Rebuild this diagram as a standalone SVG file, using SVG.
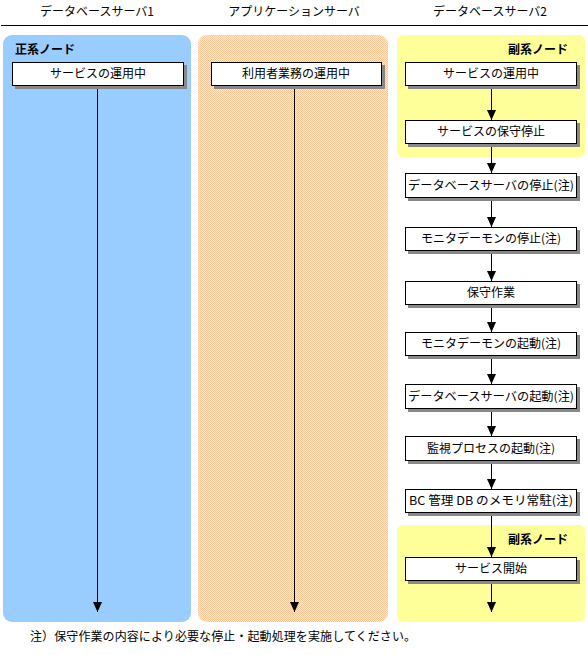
<svg xmlns="http://www.w3.org/2000/svg" width="588" height="655" viewBox="0 0 588 655">
<defs>
<pattern id="dither" width="2" height="2" patternUnits="userSpaceOnUse">
<rect width="2" height="2" fill="#FFE8D0"/>
<rect x="0" y="0" width="1" height="1" fill="#F9C898"/>
<rect x="1" y="1" width="1" height="1" fill="#F9C898"/>
</pattern>
<marker id="arr" viewBox="0 0 10 10" refX="10" refY="5" markerWidth="10" markerHeight="10" markerUnits="userSpaceOnUse" orient="auto">
<path d="M0,0.5 L10,5 L0,9.5 Z" fill="#000"/>
</marker>
</defs>
<style>
text{font-family:"Noto Sans CJK JP","Liberation Sans",sans-serif;font-size:12px;fill:#000}
.hdr{text-anchor:middle}
.lbl{text-anchor:middle}
.bold{font-weight:bold;font-size:12px}
.box{fill:#fff;stroke:#000;stroke-width:1}
.sh{fill:#888}
.ln{stroke:#000;stroke-width:1;fill:none}
</style>
<rect width="588" height="655" fill="#fff"/>
<g id="headers">
<text class="hdr" x="97" y="16">データベースサーバ1</text>
<text class="hdr" x="294" y="16">アプリケーションサーバ</text>
<text class="hdr" x="490" y="16">データベースサーバ2</text>
<line x1="1" y1="25.5" x2="588" y2="25.5" stroke="#000" stroke-width="1"/>
</g>
<g id="panels">
<rect x="3" y="35" width="188" height="587" rx="9" fill="#99CCFF"/>
<rect x="198" y="35" width="190" height="587" rx="9" fill="url(#dither)"/>
<rect x="397" y="35" width="188" height="122" rx="6" fill="#FFFF99"/>
<rect x="397" y="525" width="188" height="97" rx="6" fill="#FFFF99"/>
<text class="bold" x="15" y="54">正系ノード</text>
<text class="bold" x="568" y="54" text-anchor="end">副系ノード</text>
<text class="bold" x="568" y="544" text-anchor="end">副系ノード</text>
</g>
<g id="connectors">
<line class="ln" x1="97.5" y1="86" x2="97.5" y2="612" marker-end="url(#arr)"/>
<line class="ln" x1="294.5" y1="86" x2="294.5" y2="612" marker-end="url(#arr)"/>
<line class="ln" x1="491.5" y1="86" x2="491.5" y2="120" marker-end="url(#arr)"/>
<line class="ln" x1="491.5" y1="144" x2="491.5" y2="173" marker-end="url(#arr)"/>
<line class="ln" x1="491.5" y1="198" x2="491.5" y2="227" marker-end="url(#arr)"/>
<line class="ln" x1="491.5" y1="251" x2="491.5" y2="281" marker-end="url(#arr)"/>
<line class="ln" x1="491.5" y1="305" x2="491.5" y2="332" marker-end="url(#arr)"/>
<line class="ln" x1="491.5" y1="356" x2="491.5" y2="384" marker-end="url(#arr)"/>
<line class="ln" x1="491.5" y1="409" x2="491.5" y2="436" marker-end="url(#arr)"/>
<line class="ln" x1="491.5" y1="461" x2="491.5" y2="489" marker-end="url(#arr)"/>
<line class="ln" x1="491.5" y1="513" x2="491.5" y2="557" marker-end="url(#arr)"/>
<line class="ln" x1="491.5" y1="581" x2="491.5" y2="612" marker-end="url(#arr)"/>
</g>
<g id="n1"><rect class="sh" x="15" y="65" width="172" height="24"/><rect class="box" x="12.5" y="62.5" width="171" height="23"/><text class="lbl" x="98" y="78">サービスの運用中</text></g>
<g id="n2"><rect class="sh" x="214" y="65" width="171" height="24"/><rect class="box" x="211.5" y="62.5" width="170" height="23"/><text class="lbl" x="296" y="78">利用者業務の運用中</text></g>
<g id="r1"><rect class="sh" x="408" y="65" width="172" height="24"/><rect class="box" x="405.5" y="62.5" width="171" height="23"/><text class="lbl" x="491" y="78">サービスの運用中</text></g>
<g id="r2"><rect class="sh" x="408" y="123" width="172" height="24"/><rect class="box" x="405.5" y="120.5" width="171" height="23"/><text class="lbl" x="491" y="136">サービスの保守停止</text></g>
<g id="r3"><rect class="sh" x="408" y="176" width="172" height="25"/><rect class="box" x="405.5" y="173.5" width="171" height="24"/><text class="lbl" x="491" y="190" textLength="166" lengthAdjust="spacingAndGlyphs">データベースサーバの停止(注)</text></g>
<g id="r4"><rect class="sh" x="408" y="230" width="172" height="24"/><rect class="box" x="405.5" y="227.5" width="171" height="23"/><text class="lbl" x="491" y="243">モニタデーモンの停止(注)</text></g>
<g id="r5"><rect class="sh" x="408" y="284" width="172" height="24"/><rect class="box" x="405.5" y="281.5" width="171" height="23"/><text class="lbl" x="491" y="297">保守作業</text></g>
<g id="r6"><rect class="sh" x="408" y="335" width="172" height="24"/><rect class="box" x="405.5" y="332.5" width="171" height="23"/><text class="lbl" x="491" y="348">モニタデーモンの起動(注)</text></g>
<g id="r7"><rect class="sh" x="408" y="387" width="172" height="25"/><rect class="box" x="405.5" y="384.5" width="171" height="24"/><text class="lbl" x="491" y="401" textLength="166" lengthAdjust="spacingAndGlyphs">データベースサーバの起動(注)</text></g>
<g id="r8"><rect class="sh" x="408" y="439" width="172" height="25"/><rect class="box" x="405.5" y="436.5" width="171" height="24"/><text class="lbl" x="491" y="453">監視プロセスの起動(注)</text></g>
<g id="r9"><rect class="sh" x="408" y="492" width="172" height="24"/><rect class="box" x="405.5" y="489.5" width="171" height="23"/><text class="lbl" x="491" y="505" textLength="164" lengthAdjust="spacingAndGlyphs">BC 管理 DB のメモリ常駐(注)</text></g>
<g id="r10"><rect class="sh" x="408" y="560" width="172" height="24"/><rect class="box" x="405.5" y="557.5" width="171" height="23"/><text class="lbl" x="491" y="573">サービス開始</text></g>
<g id="note"><text x="30" y="641" textLength="386" lengthAdjust="spacing">注）保守作業の内容により必要な停止・起動処理を実施してください。</text></g>
</svg>
